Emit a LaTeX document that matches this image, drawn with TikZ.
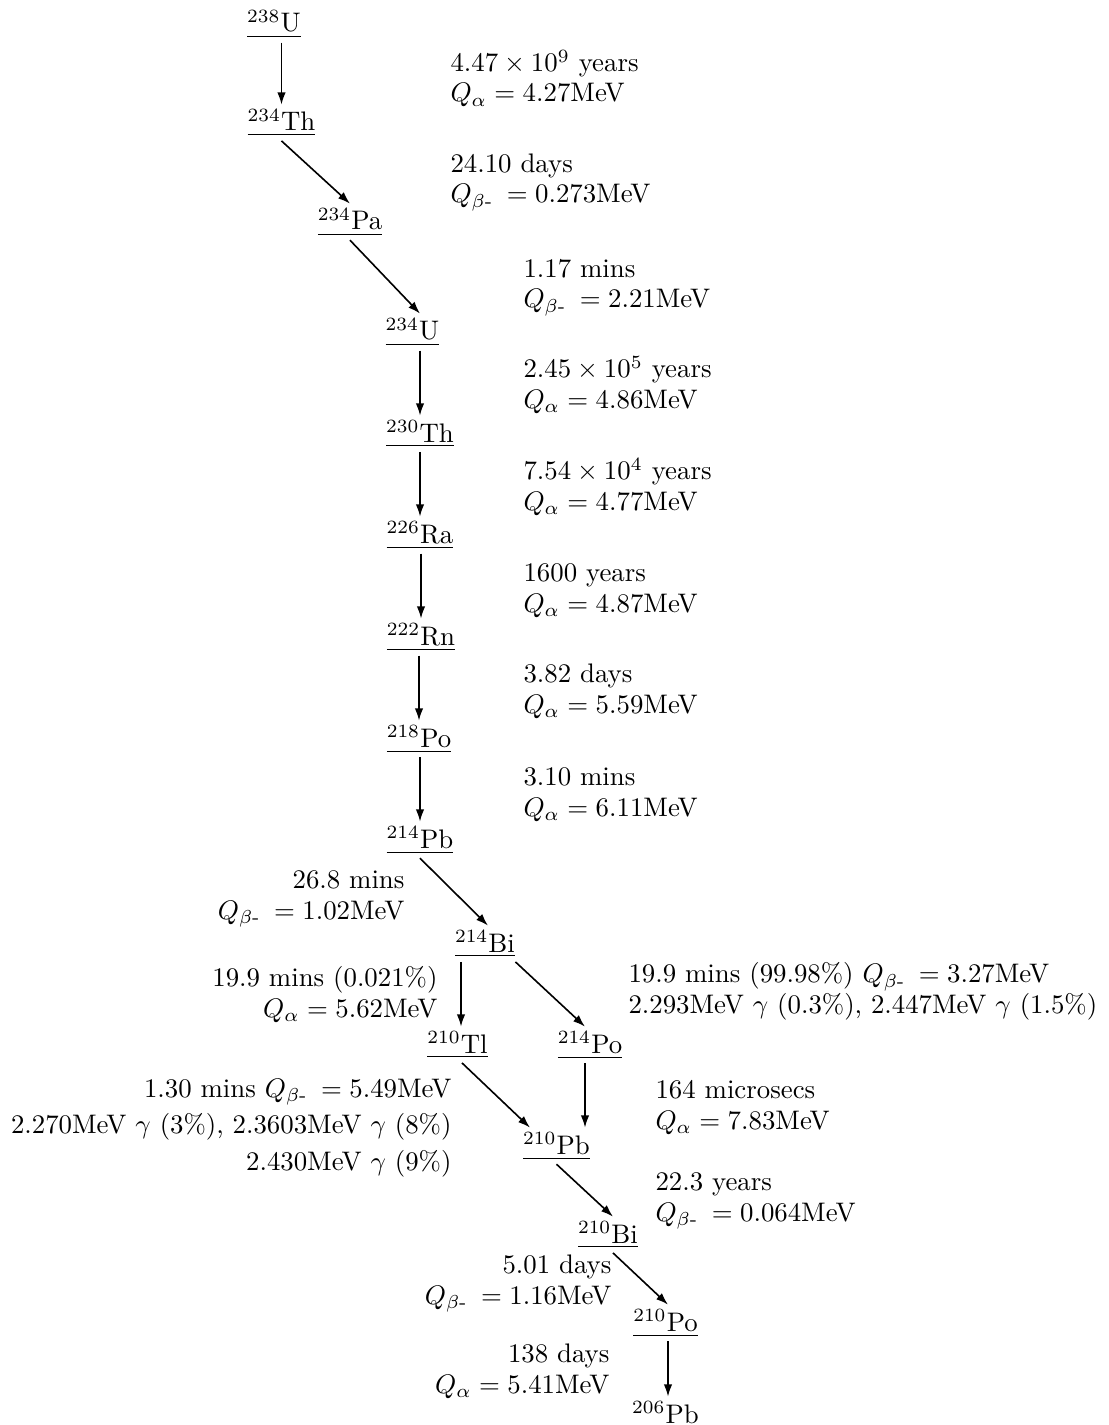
\documentclass[tikz,border=0pt]{standalone}
\usepackage{amsmath}
\usepackage{tikz}
\usetikzlibrary{arrows.meta, calc}
\newcommand{\nuc}[2]{\underline{$^{#1}$#2}}
\newcommand{\qbeta}{Q_{\beta\text{-}}\mkern4mu}
\tikzset{
  nuc/.style   = {inner xsep=0pt, inner ysep=1.5pt, anchor=base},
  decay/.style = {-{Latex[length=1.6mm, width=1.1mm]}, line width=0.6pt},
  info/.style  = {inner sep=0pt, align=left, anchor=base west, font=\fontsize{10}{11.2}\selectfont},
  infor/.style = {info, align=right, anchor=base east},
}

\begin{document}
\begin{tikzpicture}[x=0.0131cm, y=-0.0131cm]
  \useasboundingbox (0,0) rectangle (1108,1425);

  % the chain
  \node[nuc] (u238)  at (274,32)    {\nuc{238}{U}};
  \node[nuc] (th234) at (281.5,131) {\nuc{234}{Th}};
  \node[nuc] (pa234) at (350,230)   {\nuc{234}{Pa}};
  \node[nuc] (u234)  at (412.5,340) {\nuc{234}{U}};
  \node[nuc] (th230) at (420,442)   {\nuc{230}{Th}};
  \node[nuc] (ra226) at (420,543)   {\nuc{226}{Ra}};
  \node[nuc] (rn222) at (421,645)   {\nuc{222}{Rn}};
  \node[nuc] (po218) at (419,747)   {\nuc{218}{Po}};
  \node[nuc] (pb214) at (420,848)   {\nuc{214}{Pb}};
  \node[nuc] (bi214) at (485,952)   {\nuc{214}{Bi}};
  \node[nuc] (tl210) at (457.5,1053){\nuc{210}{Tl}};
  \node[nuc] (po214) at (590,1053)  {\nuc{214}{Po}};
  \node[nuc] (pb210) at (556.5,1154){\nuc{210}{Pb}};
  \node[nuc] (bi210) at (608,1243)  {\nuc{210}{Bi}};
  \node[nuc] (po210) at (665.5,1331){\nuc{210}{Po}};
  \node[nuc] (pb206) at (665.5,1423){\nuc{206}{Pb}};

  \draw[decay] (u238.south -| th234.north) -- (th234.north);
  \draw[decay] (th234.south) -- (pa234.north);
  \draw[decay] (pa234.south) -- (u234.north -| th230.north);
  \draw[decay] (u234.south -| th230.north) -- (th230.north);
  \draw[decay] (th230.south -| ra226.north) -- (ra226.north);
  \draw[decay] (ra226.south -| rn222.north) -- (rn222.north);
  \draw[decay] (rn222.south -| po218.north) -- (po218.north);
  \draw[decay] (po218.south -| pb214.north) -- (pb214.north);
  \draw[decay] (pb214.south) -- ($(bi214.north)+(3,0)$);
  \draw[decay] ($(bi214.south)+(-24,0)$) -- ($(tl210.north)+(3.5,0)$);
  \draw[decay] (bi214.south east) -- ($(po214.north)+(-5,0)$);
  \draw[decay] ($(tl210.south)+(4.5,0)$) -- ($(pb210.north)+(-26.5,0)$);
  \draw[decay] ($(po214.south)+(-5,0)$) -- ($(pb210.north)+(28.5,0)$);
  \draw[decay] (pb210.south) -- ($(bi210.north)+(5,0)$);
  \draw[decay] ($(bi210.south)+(5,0)$) -- ($(po210.north)+(2.5,0)$);
  \draw[decay] ($(po210.south)+(2.5,0)$) -- ($(pb206.north)+(2.5,0)$);

  % half lives and Q values (placed at the baseline of the last line)
  \node[info] (t1) at (450,102)  {$4.47\times10^9$ years\\$Q_\alpha=4.27$MeV};
  \node[info] (t2) at (450,203)  {24.10 days\\$\qbeta=0.273$MeV};
  \node[info] (t3) at (523,308)  {1.17 mins\\$\qbeta=2.21$MeV};
  \node[info] (t4) at (523,408)  {$2.45\times10^5$ years\\$Q_\alpha=4.86$MeV};
  \node[info] (t5) at (523,510)  {$7.54\times10^4$ years\\$Q_\alpha=4.77$MeV};
  \node[info] (t6) at (523,612)  {1600 years\\$Q_\alpha=4.87$MeV};
  \node[info] (t7) at (523,713)  {3.82 days\\$Q_\alpha=5.59$MeV};
  \node[info] (t8) at (523,816)  {3.10 mins\\$Q_\alpha=6.11$MeV};
  \node[infor] (t9) at (405,919) {26.8 mins\\$\qbeta=1.02$MeV};
  \node[infor] (t10) at (438,1017) {19.9 mins (0.021\%)\\$Q_\alpha=5.62$MeV};
  \node[info] (t11) at (628,1013)
    {19.9 mins (99.98\%) $\qbeta=3.27$MeV\\2.293MeV $\gamma$ (0.3\%), 2.447MeV $\gamma$ (1.5\%)};
  \node[infor, font=\fontsize{10}{13.6}\selectfont] (t12) at (452,1170)
    {1.30 mins $\qbeta=5.49$MeV\\2.270MeV $\gamma$ (3\%), 2.3603MeV $\gamma$ (8\%)\\2.430MeV $\gamma$ (9\%)};
  \node[info] (t13) at (655,1129) {164 microsecs\\$Q_\alpha=7.83$MeV};
  \node[info] (t14) at (655,1221) {22.3 years\\$\qbeta=0.064$MeV};
  \node[infor] (t15) at (612,1304) {5.01 days\\$\qbeta=1.16$MeV};
  \node[infor] (t16) at (610,1393) {138 days\\$Q_\alpha=5.41$MeV};
\end{tikzpicture}
\end{document}
